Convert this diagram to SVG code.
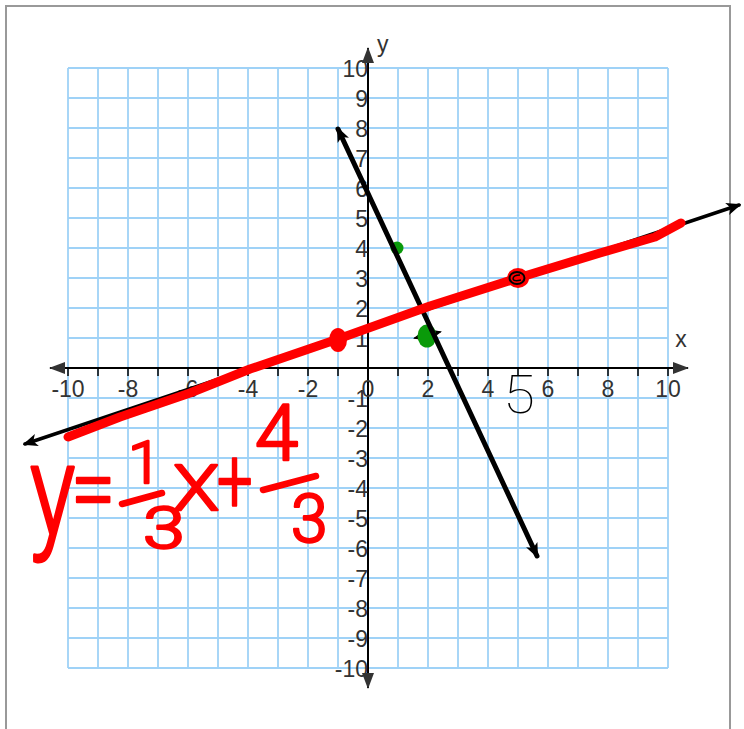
<svg xmlns="http://www.w3.org/2000/svg" width="744" height="729" viewBox="0 0 744 729">
<defs>
<style>
.grid{stroke:#9fd2f7;stroke-width:1.8;fill:none}
.axis{stroke:#000;stroke-width:2;fill:none}
.lbl{font-family:"Liberation Sans",Arial,sans-serif;font-size:23px;fill:#333}
.xl{text-anchor:middle}
.yl{text-anchor:end}
.hand{font-family:Roboto,Lato,"Open Sans","Liberation Sans",sans-serif;font-weight:300;fill:#f00;stroke:#f00;stroke-width:2.5;stroke-linejoin:round}
.bar{stroke:#f00;stroke-width:6.5;stroke-linecap:round;fill:none}
.graph{stroke:#000;fill:none;stroke-linecap:round}
</style>
<marker id="ah" viewBox="0 0 12 10" refX="10" refY="5" markerWidth="12" markerHeight="10" markerUnits="userSpaceOnUse" orient="auto-start-reverse">
<path d="M0,0 L12,5 L0,10 L3,5 z" fill="#000"/>
</marker>
<marker id="ah2" viewBox="0 0 12 10" refX="10" refY="5" markerWidth="15" markerHeight="13" markerUnits="userSpaceOnUse" orient="auto-start-reverse">
<path d="M0,0 L12,5 L0,10 L3,5 z" fill="#000"/>
</marker>
<marker id="axh" viewBox="0 0 16 12" refX="15" refY="6" markerWidth="16" markerHeight="12" markerUnits="userSpaceOnUse" orient="auto-start-reverse">
<path d="M0,0 L16,6 L0,12 z" fill="#333"/>
</marker>
</defs>
<rect x="0" y="0" width="744" height="729" fill="#fff"/>
<rect x="6" y="6" width="724" height="740" fill="none" stroke="#999" stroke-width="2"/>

<g id="grid">
<path class="grid" d="M68,68V668M98,68V668M128,68V668M158,68V668M188,68V668M218,68V668M248,68V668M278,68V668M308,68V668M338,68V668M368,68V668M398,68V668M428,68V668M458,68V668M488,68V668M518,68V668M548,68V668M578,68V668M608,68V668M638,68V668M668,68V668M68,68H668M68,98H668M68,128H668M68,158H668M68,188H668M68,218H668M68,248H668M68,278H668M68,308H668M68,338H668M68,368H668M68,398H668M68,428H668M68,458H668M68,488H668M68,518H668M68,548H668M68,578H668M68,608H668M68,638H668M68,668H668"/>
</g>

<g id="axes">
<line class="axis" x1="50" y1="368" x2="688" y2="368" marker-start="url(#axh)" marker-end="url(#axh)"/>
<line class="axis" x1="368" y1="48" x2="368" y2="688" marker-start="url(#axh)" marker-end="url(#axh)"/>
<path stroke="#000" stroke-width="1.5" d="M68,368V376M98,368V376M128,368V376M158,368V376M188,368V376M218,368V376M248,368V376M278,368V376M308,368V376M338,368V376M398,368V376M428,368V376M458,368V376M488,368V376M518,368V376M548,368V376M578,368V376M608,368V376M638,368V376M668,368V376"/>
<text class="lbl" x="681" y="347" text-anchor="middle">x</text>
<text class="lbl" x="377" y="52">y</text>
<g class="lbl xl">
<text x="68" y="397">-10</text>
<text x="128" y="397">-8</text>
<text x="188" y="397">-6</text>
<text x="248" y="397">-4</text>
<text x="308" y="397">-2</text>
<text x="368" y="397">0</text>
<text x="428" y="397">2</text>
<text x="488" y="397">4</text>
<text x="548" y="397">6</text>
<text x="608" y="397">8</text>
<text x="668" y="397">10</text>
</g>
<g class="lbl yl">
<text x="368" y="76.5">10</text>
<text x="368" y="106.5">9</text>
<text x="368" y="136.5">8</text>
<text x="368" y="166.5">7</text>
<text x="368" y="196.5">6</text>
<text x="368" y="226.5">5</text>
<text x="368" y="256.5">4</text>
<text x="368" y="286.5">3</text>
<text x="368" y="316.5">2</text>
<text x="368" y="346.5">1</text>
<text x="368" y="406.5">-1</text>
<text x="368" y="436.5">-2</text>
<text x="368" y="466.5">-3</text>
<text x="368" y="496.5">-4</text>
<text x="368" y="526.5">-5</text>
<text x="368" y="556.5">-6</text>
<text x="368" y="586.5">-7</text>
<text x="368" y="616.5">-8</text>
<text x="368" y="646.5">-9</text>
<text x="368" y="676.5">-10</text>
</g>
</g>

<g id="points">
<line class="graph" x1="415" y1="338" x2="440" y2="332" stroke-width="1.5" marker-start="url(#ah)" marker-end="url(#ah)"/>
<ellipse cx="397" cy="248" rx="6.5" ry="6.5" fill="#0a9a0a"/>
<ellipse cx="427" cy="336" rx="9.5" ry="11.5" fill="#0a9a0a"/>
</g>

<g id="connectors">
<line class="graph" x1="338" y1="129" x2="537" y2="556" stroke-width="5" marker-start="url(#ah2)" marker-end="url(#ah2)"/>
<line class="graph" x1="25" y1="444" x2="739" y2="205" stroke-width="3.5" marker-start="url(#ah2)" marker-end="url(#ah2)"/>
</g>

<g id="red-line">
<path d="M68,437 L120,417 L190,393 L250,369 L338,339 L430,306 L518,278 L600,253 L655,237 L681,223" fill="none" stroke="#f00" stroke-width="9" stroke-linecap="round" stroke-linejoin="round"/>
<ellipse cx="338" cy="340" rx="9" ry="12" fill="#f00"/>
<ellipse cx="518" cy="278" rx="11" ry="10" fill="#f00"/>
<ellipse cx="517" cy="278" rx="7.5" ry="6" fill="none" stroke="#000" stroke-width="2"/>
<path d="M520,275 Q513,275 513,279 Q514,282 521,280" fill="none" stroke="#000" stroke-width="1.5"/>
</g>

<g id="equation">
<text class="hand" font-size="100" transform="translate(30,535) scale(0.95,1.28)">y</text>
<text class="hand" font-size="100" transform="translate(71,521) scale(0.8,0.95)">=</text>
<text class="hand" font-size="60" x="128" y="483">1</text>
<line class="bar" x1="122" y1="504" x2="162" y2="493"/>
<text class="hand" font-size="58" transform="translate(143,548) scale(1.3,1)">3</text>
<text class="hand" font-size="63" transform="translate(173,510) scale(1.2,1)">X</text>
<text class="hand" font-size="90" transform="translate(217,512) scale(0.7,1)">+</text>
<text class="hand" font-size="78" x="255" y="460">4</text>
<line class="bar" x1="263" y1="490" x2="316" y2="476"/>
<text class="hand" font-size="66" x="291" y="542">3</text>
</g>

<g id="note">
<text font-family="Roboto,Lato,'Open Sans',sans-serif" font-weight="100" font-size="53" fill="#000" transform="translate(503,413) scale(1.1,1)">5</text>
</g>
</svg>
